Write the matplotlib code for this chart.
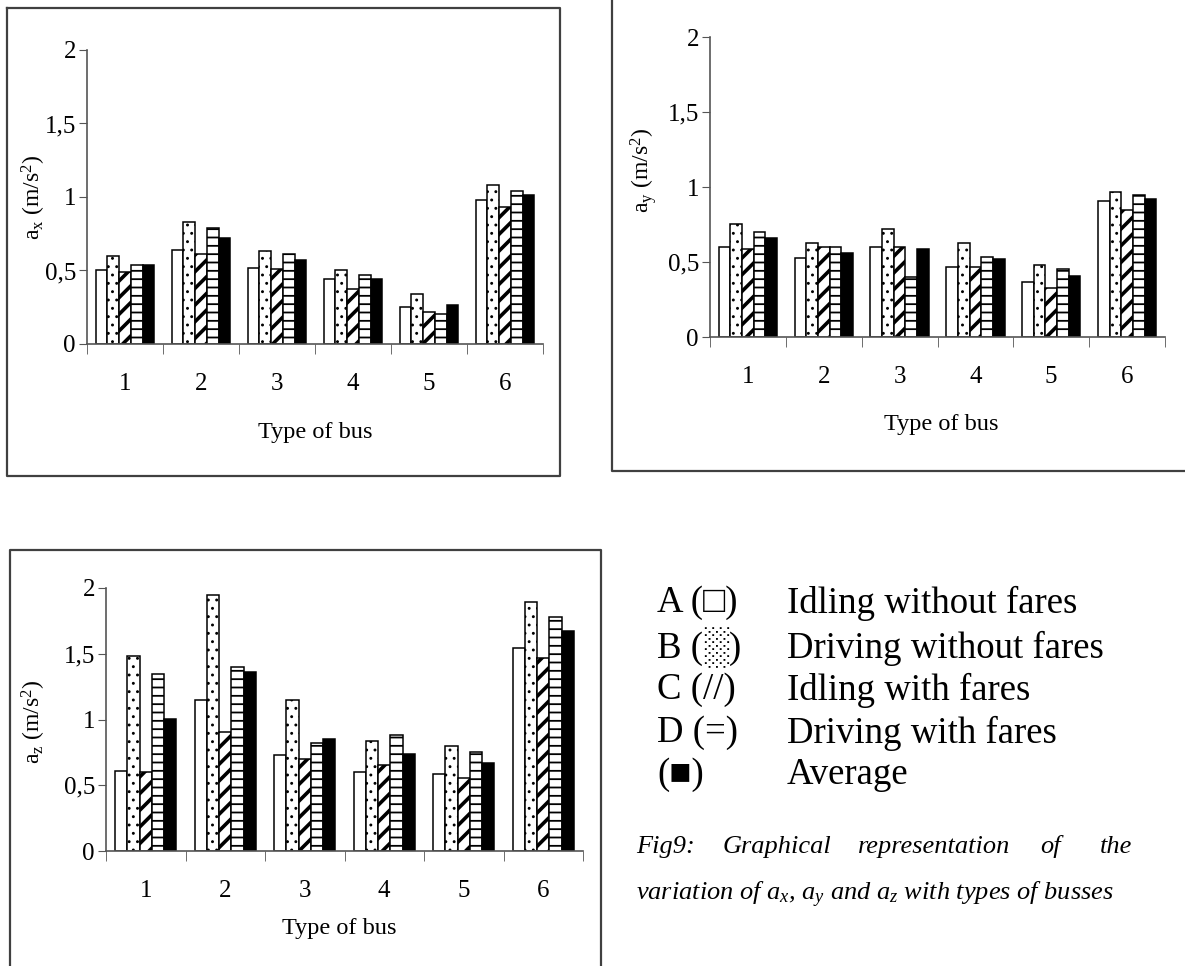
import numpy as np
import matplotlib
matplotlib.use('Agg')
import matplotlib.pyplot as plt
from matplotlib.lines import Line2D

plt.rcParams['font.family'] = ['Liberation Serif', 'DejaVu Serif']
plt.rcParams['mathtext.fontset'] = 'custom'
plt.rcParams['mathtext.rm'] = 'Liberation Serif'
plt.rcParams['mathtext.it'] = 'Liberation Serif:italic'
plt.rcParams['hatch.linewidth'] = 1.2

buses = ['1', '2', '3', '4', '5', '6']
yticks = [0, 0.5, 1, 1.5, 2]
ytick_labels = ['0', '0,5', '1', '1,5', '2']
series_names = ['A', 'B', 'C', 'D', 'Average']

# ax
ax_A = [0.50, 0.64, 0.52, 0.44, 0.25, 0.98]
ax_B = [0.60, 0.83, 0.63, 0.50, 0.34, 1.08]
ax_C = [0.49, 0.61, 0.51, 0.375, 0.215, 0.93]
ax_D = [0.54, 0.79, 0.61, 0.47, 0.205, 1.04]
ax_E = [0.54, 0.72, 0.57, 0.44, 0.265, 1.015]

# ay
ay_A = [0.60, 0.53, 0.60, 0.465, 0.37, 0.905]
ay_B = [0.755, 0.63, 0.72, 0.63, 0.48, 0.97]
ay_C = [0.585, 0.60, 0.60, 0.465, 0.33, 0.85]
ay_D = [0.70, 0.60, 0.40, 0.535, 0.455, 0.95]
ay_E = [0.66, 0.56, 0.59, 0.52, 0.41, 0.92]

# az
az_A = [0.61, 1.15, 0.73, 0.60, 0.585, 1.54]
az_B = [1.48, 1.945, 1.15, 0.835, 0.80, 1.89]
az_C = [0.60, 0.905, 0.70, 0.655, 0.555, 1.47]
az_D = [1.345, 1.40, 0.82, 0.88, 0.755, 1.78]
az_E = [1.005, 1.36, 0.85, 0.74, 0.67, 1.67]

legend_keys = ['A (\u25a1)', 'B (\u2591)', 'C (//)', 'D (=)', '(\u25a0)']
legend_texts = ['Idling without fares', 'Driving without fares',
                'Idling with fares', 'Driving with fares', 'Average']

hatches = ['', '..', '//', '--', '']
hatch_lw = [1.0, 0.9, 2.6, 1.3, 1.0]
faces = ['white', 'white', 'white', 'white', 'black']

fig = plt.figure(figsize=(11.85, 9.66), dpi=100)
W, H = 1185, 966


def frac(x0, y0, x1, y1):
    # pixel box -> figure fraction
    return [x0 / W, 1 - y1 / H, (x1 - x0) / W, (y1 - y0) / H]


def bar_panel(rect, data, ylab, ylab_xy, xlab_xy):
    ax = fig.add_axes(rect)
    x = np.arange(1, 7)
    w = 0.154
    for i, vals in enumerate(data):
        with plt.rc_context({'hatch.linewidth': hatch_lw[i]}):
            bars = ax.bar(x + (i - 2) * w, vals, w, color=faces[i], edgecolor='black',
                          hatch=hatches[i], linewidth=1.1)
        for b in bars:
            if hasattr(b, 'set_hatch_linewidth'):
                b.set_hatch_linewidth(hatch_lw[i])
    ax.set_xlim(0.5, 6.5)
    ax.set_ylim(0, 2)
    ax.set_yticks(yticks)
    ax.set_yticklabels(ytick_labels)
    ax.set_xticks(x)
    ax.set_xticklabels(buses)
    ax.set_xticks(np.arange(0.5, 7, 1), minor=True)
    ax.tick_params(axis='x', which='major', length=0, pad=21, labelsize=18)
    ax.tick_params(axis='x', which='minor', length=7, direction='out', color='#555555')
    ax.tick_params(axis='y', length=6, labelsize=18, color='#555555', pad=2)
    for s in ['top', 'right']:
        ax.spines[s].set_visible(False)
    for s in ['left', 'bottom']:
        ax.spines[s].set_color('#555555')
        ax.spines[s].set_linewidth(1.2)
    ax.set_ylabel(ylab, fontsize=17)
    ax.yaxis.set_label_coords(*ylab_xy)
    ax.set_xlabel('Type of bus', fontsize=17.5)
    ax.xaxis.label.set_va('center')
    ax.xaxis.set_label_coords(*xlab_xy)
    return ax


bar_panel(frac(87, 50, 543, 344), [ax_A, ax_B, ax_C, ax_D, ax_E],
          'a$_{\\mathrm{x}}$ (m/s$^{\\mathrm{2}}$)', (-0.085, 0.5), (0.5, -0.30))
bar_panel(frac(710, 37, 1165, 337), [ay_A, ay_B, ay_C, ay_D, ay_E],
          'a$_{\\mathrm{y}}$ (m/s$^{\\mathrm{2}}$)', (-0.112, 0.555), (0.508, -0.293))
bar_panel(frac(106, 588, 583, 851), [az_A, az_B, az_C, az_D, az_E],
          'a$_{\\mathrm{z}}$ (m/s$^{\\mathrm{2}}$)', (-0.122, 0.49), (0.49, -0.293))

# panel frames
fc = '#404040'


def fline(xs, ys):
    fig.add_artist(Line2D([v / W for v in xs], [1 - v / H for v in ys],
                          color=fc, linewidth=1.6))


fline([7, 560, 560, 7, 7], [8, 8, 476, 476, 8])
fline([612, 612, 1185], [0, 471, 471])
fline([10, 10, 601, 601], [966, 550, 550, 966])

# legend
rows_y = [603, 648, 690, 733, 775]
for k, t, yy in zip(legend_keys, legend_texts, rows_y):
    fig.text(657 / W, 1 - yy / H, k, fontsize=26.5, va='center', ha='left')
    fig.text(787 / W, 1 - yy / H, t, fontsize=26.5, va='center', ha='left')

# caption
cap_words = ['Fig9:', 'Graphical', 'representation', 'of', 'the']
cap_x = [636, 723, 858, 1040, 1100]
for wd, xx in zip(cap_words, cap_x):
    fig.text(xx / W, 1 - 847 / H, wd, fontsize=19, style='italic', va='center', ha='left')
fig.text(636 / W, 1 - 895 / H,
         'variation of $a_x$, $a_y$ and $a_z$ with types of busses',
         fontsize=19, style='italic', va='center', ha='left')

fig.savefig('out.png', dpi=100)
